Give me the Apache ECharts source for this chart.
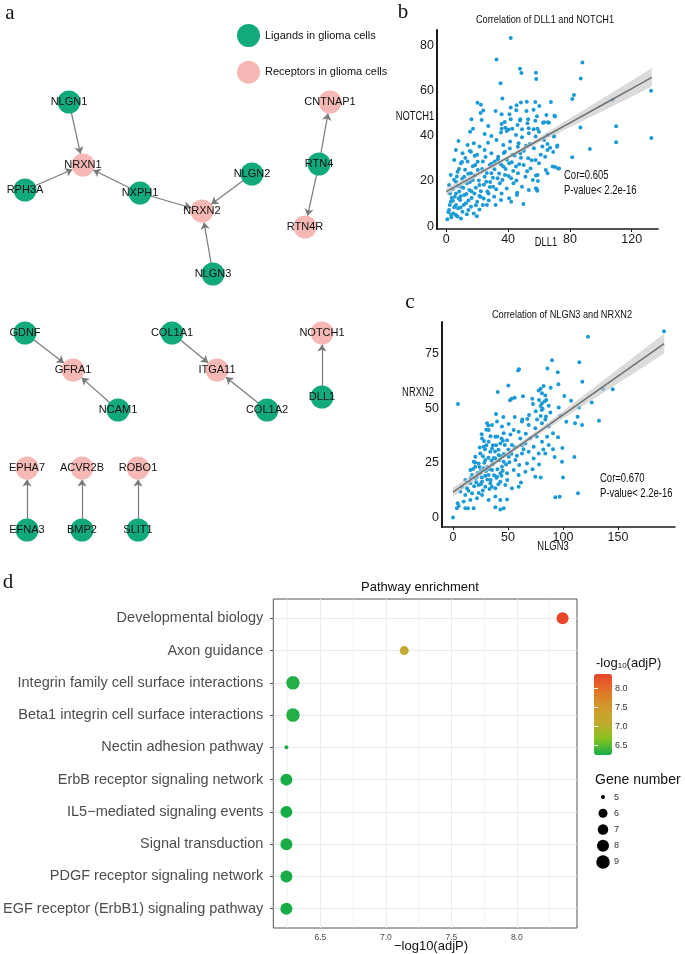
<!DOCTYPE html>
<html>
<head>
<meta charset="utf-8">
<script src="https://cdn.jsdelivr.net/npm/echarts@6/dist/echarts.min.js"></script>
<style>html,body{margin:0;padding:0;background:#fff}#main{width:685px;height:954px}</style>
</head>
<body>
<div id="main"></div>
<script>
// ---- panel a : ligand / receptor network (layout units, 1 unit = 10px)
var nodeNames = ['NLGN1','NRXN1','RPH3A','NXPH1','NLGN2','NRXN2','NLGN3','CNTNAP1','RTN4','RTN4R',
  'GDNF','GFRA1','NCAM1','COL1A1','ITGA11','COL1A2','NOTCH1','DLL1','EPHA7','ACVR2B','ROBO1','EFNA3','BMP2','SLIT1'];
var nodeType = [0,1,0,0,0,1,0,1,0,1, 0,1,0,0,1,0,1,0,1,1,1,0,0,0]; // 0 ligand, 1 receptor
var nodeX = [6.9,8.3,2.5,14.0,25.2,20.2,21.3,33.0,31.9,30.5, 2.5,7.3,11.8,17.2,21.7,26.7,32.2,32.2,2.7,8.2,13.8,2.7,8.2,13.8];
var nodeY = [10.2,16.5,19.0,19.3,17.4,21.1,27.4,10.2,16.4,22.7, 33.3,37.0,41.0,33.3,37.0,41.0,33.3,39.7,46.8,46.8,46.8,53.0,53.0,53.0];
var linkFrom = ['NLGN1','RPH3A','NXPH1','NXPH1','NLGN2','NLGN3','RTN4','RTN4','GDNF','NCAM1','COL1A1','COL1A2','DLL1','EFNA3','BMP2','SLIT1'];
var linkTo = ['NRXN1','NRXN1','NRXN1','NRXN2','NRXN2','NRXN2','CNTNAP1','RTN4R','GFRA1','GFRA1','ITGA11','ITGA11','NOTCH1','EPHA7','ACVR2B','ROBO1'];
var typeNames = ['Ligands in glioma cells','Receptors in glioma cells'];

// ---- panel b : DLL1 vs NOTCH1
var bPoints = [
 [41.7,83.4],[32.5,73.9],[47.7,69.8],[48.6,67.9],[58,68],[58.2,65.3],[35.1,63.4],[36.3,56.6],[20.2,54.7],[22.4,53.8],
 [23.9,51.3],[22.2,50.2],[16.3,47.4],[22.9,47.1],[27.2,44.4],[31.9,51.1],[35.8,49.6],[41.7,52.6],[45.5,53.6],[48.3,54.8],
 [52.1,55.2],[57.6,55.1],[60.2,53.3],[56.5,51.6],[51.9,51.1],[45.3,51.4],[40.9,49.6],[41.7,47.4],[47.9,47.4],[53,47.4],
 [58.7,48.7],[57.6,46.7],[63.3,46.1],[65.7,46.1],[37.8,46.2],[35.8,45.3],[46.1,44.9],[47.7,46.8],[52.5,45.6],[17.3,43.2],
 [35.8,43.2],[38.2,43.6],[40.4,42.8],[42.7,43.2],[49,43],[53.3,43.4],[56.5,43],[59,43.2],
 [88.1,72.6],[87,65.5],[82.6,58.2],[81.5,56.4],[67.7,55.1],[107.7,56],[132.5,60],[70,49],[86.8,43.7],[109.9,44.3],
 [69.7,39.9],[132.7,39.1],[109.9,37.2],[71.9,35.7],[67.2,34.8],[69.2,32.9],[92.9,34.2],[81.5,30.5],[68.8,26.4],[70.4,26.2],
 [73,25.5],[64.8,49.3],[70.3,48.6],[62.6,45.9],[66.4,45.9],[69.7,39.7],[65.5,36.4],[71.7,35.2],[72.3,25.5],[58,22.4],
 [59.3,20],[58,16.8],[58.9,15.7],[49.9,9.8],[45.9,14.8],[65.5,23.4],
 [15.4,41.9],[24.8,40.9],[29.2,40],[35.4,41.5],[39.1,42.2],[45.1,40.4],[49,39.4],[53.4,41.2],[57.8,39.7],[60,41.9],
 [63.3,38.2],[65.5,40.4],[7.9,37.8],[13.8,36],[17.8,36.7],[21.5,35.3],[27,37],[32.5,38.2],[36.9,36],[41.3,37.5],
 [46.8,36.7],[51.6,35.6],[56.7,34.5],[62.2,35.3],[65.5,33.8],[64,30.8],[6.2,33.8],[10.5,32.3],[16,33],[20,31.6],
 [24.8,33.8],[29.2,32.3],[33.6,30.8],[38,33],[42.9,31.6],[47.9,32.3],[53,30.1],[57.8,29.3],[61.1,31.6],[5.1,29.3],
 [9.5,27.9],[13.8,28.6],[18.7,27.1],[23.7,28.6],[28.1,27.1],[31.4,28.6],[36.9,26.4],[40.7,27.9],[45.1,26.4],[50.1,27.1],
 [54.5,25.6],[60,27.9],[64.4,24.9],[2.9,22.7],[7.3,24.1],[11.6,21.9],[16,23.4],[20.4,24.9],[24.8,21.9],[29.2,23.4],
 [33.2,21.2],[38,22.7],[42,21.2],[46.4,23.4],[51.2,21.9],[56,20.4],[59.1,22.7],[1.8,18.2],[6.2,19.7],[9.5,17.5],
 [13.4,19],[17.1,20.4],[21.5,18.2],[25.9,19.7],[30.3,17.5],[34.7,19],[39.1,16.7],[43.5,19],[49,17.5],[53.4,16],
 [58.5,16.3],[2.4,14.5],[5.5,13],[8.4,15.3],[11.6,13.8],[14.9,16],[18.2,14.5],[22.2,13],[26.6,15.3],[31,13],
 [35.8,14.5],[40.7,12.3],[45.7,13.8],[2.9,10.8],[6.2,9.3],[9,11.6],[12.7,10.1],[16,8.6],[20,10.8],[23.7,9.3],
 [27.5,11.3],[31.9,9.3],[35.4,11.6],[42,10.8],[1.8,7.1],[4.6,5.6],[7.7,7.9],[10.5,6.4],[14.3,7.1],[17.8,5.6],
 [21.5,7.4],[0.7,3],[3.3,3.9],[6.2,4.9],[9.5,3.4],[19.8,4.4],
 [3.5,12.5],[4.2,16.5],[5,20.5],[6.8,22],[7.5,17.8],[8,12.2],[9.2,8.2],[10.3,21],[11,17],[12.2,25],
 [13,14.2],[14.2,23.2],[15.3,19.5],[16.4,12.4],[17.2,26.5],[18.3,22.4],[19.1,17],[20.3,28.5],[21.1,20.2],[22.4,15.5],
 [23.2,25.3],[24.3,18.3],[25.4,30.6],[26.2,23.5],[27.3,14.4],[28.4,19.6],[29.3,27.6],[30.2,21.4],[31.2,25.2],[32.3,16.3],
 [33.4,29.7],[34.2,23.3],[35.4,27.3],[36.3,20.4],[37.2,32.4],[38.4,25.3],[39.2,29.4],[40.3,22.2],[41.1,34.4],[42.4,28.3],
 [43.3,24.4],[44.2,31.3],[45.4,20.2],[46.3,35.2],[47.2,27.4],[48.3,30.3],[50.2,33.4],[52.3,24.3],[54.1,36.4],[55.3,29.2],
 [2.2,9.3],[1.3,6.2],[3.1,5.1],[5.2,8.3],[6.3,14.4],[8.2,25.3],[10.2,28.4],[12.3,30.2],[15.2,33.3],[18.4,31.2],
 [4.3,11.2],[7.2,4.3],[9.3,13.2],[11.2,9.4],[13.3,5.2],[14.4,11.3],[16.3,15.4],[19.2,9.2],[21.4,13.3],[24.2,12.2],
 [26.3,9.4],[28.2,17.3]
];
var bFitX = [0,20,40,60,80,100,120,133];
var bFitY = [15.3,22.9,30.5,38.2,45.8,53.4,61.0,66.0];
var bFitLo = [13.6,21.8,29.7,37.0,43.8,50.6,57.4,61.9];
var bFitHi = [17.0,24.0,31.3,39.4,47.8,56.2,64.6,70.1];
var bXTicks = [0,40,80,120];
var bYTicks = [0,20,40,60,80];

// ---- panel c : NLGN3 vs NRXN2
var cPoints = [
 [4.5,52.1],[59.1,67.4],[60,68],[90,72.2],[85.8,68.4],[50.3,60.6],[40.6,57.6],[63.6,55.6],[51.8,53.8],[53.3,54.5],
 [56.1,55],[72.1,54.5],[77.9,58.3],[79.7,59.1],[82.4,60.3],[80.9,57],[83.9,56],[88.8,59.5],[72.7,52.1],[78.2,53.9],
 [79.7,51.2],[80.9,52.4],[83.3,53.3],[84.8,53.9],[87,51.3],[81.5,49.9],[75.2,48.7],[80.6,49.3],[84.5,46.3],[88.5,48.2],
 [39.1,47.5],[45.8,46.1],[56.1,46.1],[63,45],[67.6,45.2],[69.1,47],[76.4,45],[79.7,46.6],[83.9,45],
 [30.9,43.2],[35.5,42.4],[40,44],[44.5,41.7],[50.6,42.9],[55.2,40.1],[62.7,44],[68.8,42.4],[74.8,40.9],[80.9,43.2],
 [87,41.7],[32.4,40.1],[46.1,38.6],[59.7,39.4],[26.4,36.3],[32.4,34.8],[38.5,37.1],[43,34],[49.1,35.5],[53.6,33.3],
 [61.2,36.3],[65.8,34],[73.3,32.5],[80.9,34.8],[85.5,37.1],[27.9,32.5],[35.5,31.7],[68.8,30.2],[77.9,29.4],
 [20.3,27.9],[24.8,29.4],[29.4,26.4],[33.9,30.2],[38.5,27.1],[41.5,28.7],[46.1,25.6],[50.6,27.9],[56.7,26.4],[62.7,29.4],
 [67.3,24.8],[73.3,27.1],[18.8,25.6],[23.3,24.8],[15.8,21.8],[20.3,23.3],[24.8,20.3],[27.9,22.6],[32.4,19.5],[35.5,21.8],
 [40,18.7],[44.5,23.3],[49.1,20.3],[55.2,21.8],[59.7,19.5],[65.8,21],[17.3,19.5],[21.8,18.7],[11.2,17.2],[15.8,15.7],
 [20.3,18],[23.3,14.9],[26.4,16.4],[29.4,14.1],[33.9,15.7],[38.5,13.4],[43,16.4],[47.6,14.9],[53.6,13.4],[59.7,14.1],
 [8.2,14.1],[12.7,13.4],[6.7,11.9],[11.2,10.3],[17.3,11.1],[21.8,8.8],[26.4,10.3],[32.4,8],[38.5,9.6],[43,8],
 [49.1,8.3],[9.7,7.3],[15.8,8],[4.2,6.5],[3.6,4.2],[5.2,5.3],[11.2,4.2],[13.6,4.2],[18.8,4.2],[38.5,4.7],
 [43,3.7],[46.1,4.2],[0,0],[74.8,18.7],[79.7,18.4],[61.8,16.1],[83.9,29.4],[87,33.3],
 [22.3,20.4],[24.1,23.2],[26.2,18.3],[28.4,25.1],[30.1,21.3],[32.2,27.4],[34.3,17.2],[36.1,24.4],[38.2,30.3],[40.4,22.1],
 [42.2,26.3],[44.1,19.2],[46.3,29.1],[48.2,24.3],[50.4,31.2],[25.2,15.3],[27.1,12.4],[29.3,19.2],[31.4,23.3],[33.2,13.1],
 [35.1,26.2],[37.3,19.4],[39.1,33.2],[41.2,15.3],[43.4,28.1],[45.2,21.4],[47.1,33.3],[49.3,17.2],[51.2,25.4],[53.1,29.3],
 [19.2,14.3],[21.1,16.2],[23.4,11.2],[25.3,21.4],[27.2,28.1],[29.1,31.3],[31.3,17.4],[33.1,22.2],[35.3,14.1],[37.1,27.3],
 [39.4,18.2],[41.3,31.1],[43.1,20.3],[45.3,35.2],[28.2,35.1],[30.3,33.2],[34.1,37.3],[36.2,33.1],[40.3,37.2],[44.1,36.3],
 [52.2,38.1],[56.3,32.2],[58.1,28.3],[60.2,24.1],[62.3,33.2],[64.1,31.3],[66.2,38.4],[70.1,36.2],[72.3,22.1],[76.1,37.2],
 [78.2,24.3],[82.1,31.2],[18.3,22.2],[16.2,18.1],[14.1,12.3],[20.2,25.2],[24.3,32.1],[26.1,38.2],[30.2,40.3],[32.1,42.2],
 [191.8,85.5],[122.7,82.9],[114.8,71.2],[95.2,66.6],[117.5,62.3],[95.8,61.1],[101.2,55.7],[107.3,53.6],[96.1,50.5],[114.5,50.5],
 [126.1,52.8],[136.4,59],[145.2,58.8],[97.6,46.7],[103,43.9],[110.9,43.2],[113.3,46.2],[117.3,42.4],[132.7,44.4],[90.9,38.6],
 [95.5,36.8],[90.9,31.3],[99.4,31.9],[92.4,27.8],[99.1,25.6],[110.3,27.8],[100,18.4],[93,9.3],[97,9.5],[113.6,11.1]
];
var cFitX = [0,40,80,120,160,192];
var cFitY = [11.6,25.8,40.0,54.2,68.4,79.8];
var cFitLo = [9.4,24.8,38.8,51.8,64.8,75.2];
var cFitHi = [13.8,26.8,41.2,56.6,72.0,84.4];
var cXTicks = [0,50,100,150];
var cYTicks = [0,25,50,75];

// ---- panel d : pathway enrichment
var pathways = ['Developmental biology','Axon guidance','Integrin family cell surface interactions',
  'Beta1 integrin cell surface interactions','Nectin adhesion pathway','ErbB receptor signaling network',
  'IL5\u2212mediated signaling events','Signal transduction','PDGF receptor signaling network',
  'EGF receptor (ErbB1) signaling pathway'];
var logP = [8.35,7.14,6.29,6.29,6.24,6.24,6.24,6.24,6.24,6.24];
var geneNum = [8,6,9,9,5,8,8,8,8,8];
var dXTicks = [6.5,7.0,7.5,8.0];
var dXMinor = [6.25,6.75,7.25,7.75,8.25];
var sizeLevels = [5,6,7,8,9];
var cbarTicks = [6.5,7.0,7.5,8.0];

var SANS = "'Liberation Sans', Arial, Helvetica, sans-serif";
var SERIF = "'Liberation Serif', 'Times New Roman', serif";
var GREEN = '#12a97d', PINK = '#f6b8b5', DOT = '#1c9ad6';
var sizePx = {5:4, 6:9, 7:10.5, 8:12, 9:13.5};

window.onload = function(){
  var myChart = echarts.init(document.getElementById('main'));

  var nodes = nodeNames.map(function(n,i){
    return {name:n, value:[nodeX[i], nodeY[i]], category:nodeType[i]};
  });
  var links = linkFrom.map(function(s,i){ return {source:s, target:linkTo[i]}; });

  function zip(a,b){ return a.map(function(v,i){ return [v,b[i]]; }); }
  // confidence band of the fit, drawn as one polygon through the axes
  function band(xs, lo, hi){
    return function(params, api){
      var pts = [];
      for (var i=0;i<xs.length;i++) pts.push(api.coord([xs[i], hi[i]]));
      for (var j=xs.length-1;j>=0;j--) pts.push(api.coord([xs[j], lo[j]]));
      return {type:'polygon', shape:{points:pts}, style:{fill:'#c8c8c8', opacity:0.65}};
    };
  }
  function scatterAxes(min, max, ticks, isY){
    return {
      type:'value', min:min, max:max,
      axisLine:{onZero:false, lineStyle:{color:'#1a1a1a', width:isY?2:1.5}},
      axisTick:{show:!isY, customValues:ticks, length:3, lineStyle:{color:'#1a1a1a'}},
      axisLabel:{customValues:ticks, color:'#1a1a1a', fontSize:12.5, fontFamily:SANS, margin:isY?3:4},
      splitLine:{show:false}
    };
  }

  var gridMarks = [];
  dXTicks.forEach(function(v){ gridMarks.push({xAxis:v, lineStyle:{width:1}}); });
  dXMinor.forEach(function(v){ gridMarks.push({xAxis:v, lineStyle:{width:0.6}}); });
  pathways.forEach(function(p,i){ gridMarks.push({yAxis:i, lineStyle:{width:1}}); });

  // free texts: letters, panel titles, axis names, annotations (sx = horizontal squeeze)
  var texts = [
    {t:'a', x:10, y:13, f:'21px ' + SERIF, a:'center', sx:1},
    {t:'b', x:403, y:12, f:'21px ' + SERIF, a:'center', sx:1},
    {t:'c', x:410, y:302, f:'21px ' + SERIF, a:'center', sx:1},
    {t:'d', x:8, y:582, f:'21px ' + SERIF, a:'center', sx:1},
    {t:'Correlation of DLL1 and NOTCH1', x:545, y:20, f:'11.5px ' + SANS, a:'center', sx:0.8},
    {t:'NOTCH1', x:415, y:117, f:'12.5px ' + SANS, a:'center', sx:0.75},
    {t:'DLL1', x:546, y:243, f:'12.5px ' + SANS, a:'center', sx:0.75},
    {t:'Cor=0.605', x:564, y:175, f:'13px ' + SANS, a:'left', sx:0.73},
    {t:'P-value< 2.2e-16', x:564, y:190, f:'13px ' + SANS, a:'left', sx:0.73},
    {t:'Correlation of NLGN3 and NRXN2', x:562, y:315, f:'11.5px ' + SANS, a:'center', sx:0.8},
    {t:'NRXN2', x:418, y:393, f:'12.5px ' + SANS, a:'center', sx:0.75},
    {t:'NLGN3', x:553, y:547, f:'12.5px ' + SANS, a:'center', sx:0.75},
    {t:'Cor=0.670', x:600, y:478, f:'13px ' + SANS, a:'left', sx:0.73},
    {t:'P-value< 2.2e-16', x:600, y:493, f:'13px ' + SANS, a:'left', sx:0.73},
    {t:'Pathway enrichment', x:420, y:587, f:'13px ' + SANS, a:'center', sx:1},
    {t:'\u2212log10(adjP)', x:431, y:946, f:'13px ' + SANS, a:'center', sx:1},
    {t:'Gene number', x:595, y:780, f:'14px ' + SANS, a:'left', sx:1}
  ];
  var graphics = texts.map(function(d){
    return {type:'text', x:d.x, y:d.y, scaleX:d.sx, z:20, silent:true,
      style:{text:d.t, font:d.f, fill:'#111', align:d.a, verticalAlign:'middle'}};
  });
  graphics.push({type:'text', x:596, y:663, z:20, silent:true,
    style:{text:'-log{s|10}(adjP)', font:'13px ' + SANS, fill:'#111', align:'left', verticalAlign:'middle',
      rich:{s:{fontSize:8, fontFamily:SANS, fill:'#111', padding:[6,0,0,0]}}}});

  var option = {
    backgroundColor:'#fff',
    animation:false,
    textStyle:{fontFamily:SANS},
    legend:{
      data:typeNames, orient:'vertical', left:237, top:24, padding:0,
      itemWidth:23, itemHeight:23, itemGap:13.7, icon:'circle', selectedMode:false,
      textStyle:{fontSize:11, color:'#111', fontFamily:SANS}
    },
    grid:[
      {left:0, top:0, width:400, height:560},
      {left:437, top:30, width:221, height:199},
      {left:442, top:322, width:233, height:205},
      {left:273, top:599, width:304, height:329, show:true, borderColor:'#555', borderWidth:1, backgroundColor:'#fff'},
      {left:596, top:789, width:14, height:81},
      {left:594, top:674, width:18, height:81}
    ],
    xAxis:[
      {gridIndex:0, type:'value', min:0, max:40, show:false},
      Object.assign({gridIndex:1}, scatterAxes(-6, 137, bXTicks, false)),
      Object.assign({gridIndex:2}, scatterAxes(-10, 201.8, cXTicks, false)),
      {gridIndex:3, type:'value', min:6.14, max:8.46,
        axisLine:{show:false},
        axisTick:{customValues:dXTicks, length:3, lineStyle:{color:'#333'}},
        axisLabel:{customValues:dXTicks, color:'#4d4d4d', fontSize:8.5, margin:5,
          formatter:function(v){ return v.toFixed(1); }},
        splitLine:{show:false}},
      {gridIndex:4, type:'value', min:-1, max:1, show:false},
      {gridIndex:5, type:'value', min:0, max:1, show:false}
    ],
    yAxis:[
      {gridIndex:0, type:'value', min:0, max:56, inverse:true, show:false},
      Object.assign({gridIndex:1}, scatterAxes(-1.3, 87, bYTicks, true)),
      Object.assign({gridIndex:2}, scatterAxes(-4.36, 89.7, cYTicks, true)),
      {gridIndex:3, type:'value', min:-0.6, max:9.6, inverse:true,
        axisLine:{show:false},
        axisTick:{customValues:[0,1,2,3,4,5,6,7,8,9], length:3, lineStyle:{color:'#333'}},
        axisLabel:{customValues:[0,1,2,3,4,5,6,7,8,9], color:'#4d4d4d', fontSize:14.5, margin:10,
          formatter:function(v){ return pathways[Math.round(v)]; }},
        splitLine:{show:false}},
      {gridIndex:4, type:'category', data:sizeLevels.map(String), inverse:true, position:'right',
        axisLine:{show:false}, axisTick:{show:false},
        axisLabel:{color:'#333', fontSize:9, margin:4}},
      {gridIndex:5, type:'value', min:6.24, max:8.37, position:'right', z:10,
        axisLine:{show:false},
        axisTick:{inside:true, customValues:cbarTicks, length:4, lineStyle:{color:'#fff', width:1}},
        axisLabel:{customValues:cbarTicks, color:'#333', fontSize:9, margin:3,
          formatter:function(v){ return v.toFixed(1); }},
        splitLine:{show:false}},
      {gridIndex:5, type:'value', min:6.24, max:8.37, position:'left', z:10,
        axisLine:{show:false},
        axisTick:{inside:true, customValues:cbarTicks, length:4, lineStyle:{color:'#fff', width:1}},
        axisLabel:{show:false}, splitLine:{show:false}}
    ],
    visualMap:[{
      type:'continuous', seriesIndex:7, dimension:0, min:6.24, max:8.37,
      left:594, top:674, itemWidth:18, itemHeight:81, padding:0, calculable:false,
      text:null, showLabel:false, hoverLink:false,
      inRange:{color:['#16ad49','#86c21f','#c2aa2b','#d09a2b','#e27227','#e8432b']}
    }],
    graphic:graphics,
    series:[
      {type:'graph', coordinateSystem:'cartesian2d', xAxisIndex:0, yAxisIndex:0,
        symbolSize:23, data:nodes, links:links,
        categories:[{name:typeNames[0], itemStyle:{color:GREEN}}, {name:typeNames[1], itemStyle:{color:PINK}}],
        edgeSymbol:['none','arrow'], edgeSymbolSize:[0,7],
        lineStyle:{color:'#7a7a7a', width:1.2, opacity:1},
        label:{show:true, position:'inside', color:'#111', fontSize:11, fontFamily:SANS},
        emphasis:{disabled:true}},
      {type:'scatter', name:'b', xAxisIndex:1, yAxisIndex:1, data:bPoints, symbolSize:4,
        itemStyle:{color:DOT, opacity:1}, z:2, silent:true},
      {type:'custom', xAxisIndex:1, yAxisIndex:1, data:[[0,0]], renderItem:band(bFitX,bFitLo,bFitHi), z:3, silent:true},
      {type:'line', xAxisIndex:1, yAxisIndex:1, data:zip(bFitX,bFitY), showSymbol:false,
        lineStyle:{color:'#707070', width:1.5}, z:4, silent:true},
      {type:'scatter', name:'c', xAxisIndex:2, yAxisIndex:2, data:cPoints, symbolSize:4,
        itemStyle:{color:DOT, opacity:1}, z:2, silent:true},
      {type:'custom', xAxisIndex:2, yAxisIndex:2, data:[[0,0]], renderItem:band(cFitX,cFitLo,cFitHi), z:3, silent:true},
      {type:'line', xAxisIndex:2, yAxisIndex:2, data:zip(cFitX,cFitY), showSymbol:false,
        lineStyle:{color:'#707070', width:1.5}, z:4, silent:true},
      {type:'scatter', name:'d', xAxisIndex:3, yAxisIndex:3, z:3,
        data:logP.map(function(v,i){ return [v, i, geneNum[i]]; }),
        symbolSize:function(val){ return sizePx[val[2]]; },
        itemStyle:{opacity:1},
        markLine:{silent:true, symbol:['none','none'], z:1, label:{show:false},
          lineStyle:{color:'#ebebeb', type:'solid'}, data:gridMarks}},
      {type:'scatter', xAxisIndex:4, yAxisIndex:4, silent:true,
        data:sizeLevels.map(function(s){ return [0, String(s)]; }),
        symbolSize:function(val){ return sizePx[+val[1]]; },
        itemStyle:{color:'#000', opacity:1}},
      {type:'scatter', xAxisIndex:5, yAxisIndex:5, data:[]}
    ]
  };
  myChart.setOption(option);
};
</script>
</body>
</html>
